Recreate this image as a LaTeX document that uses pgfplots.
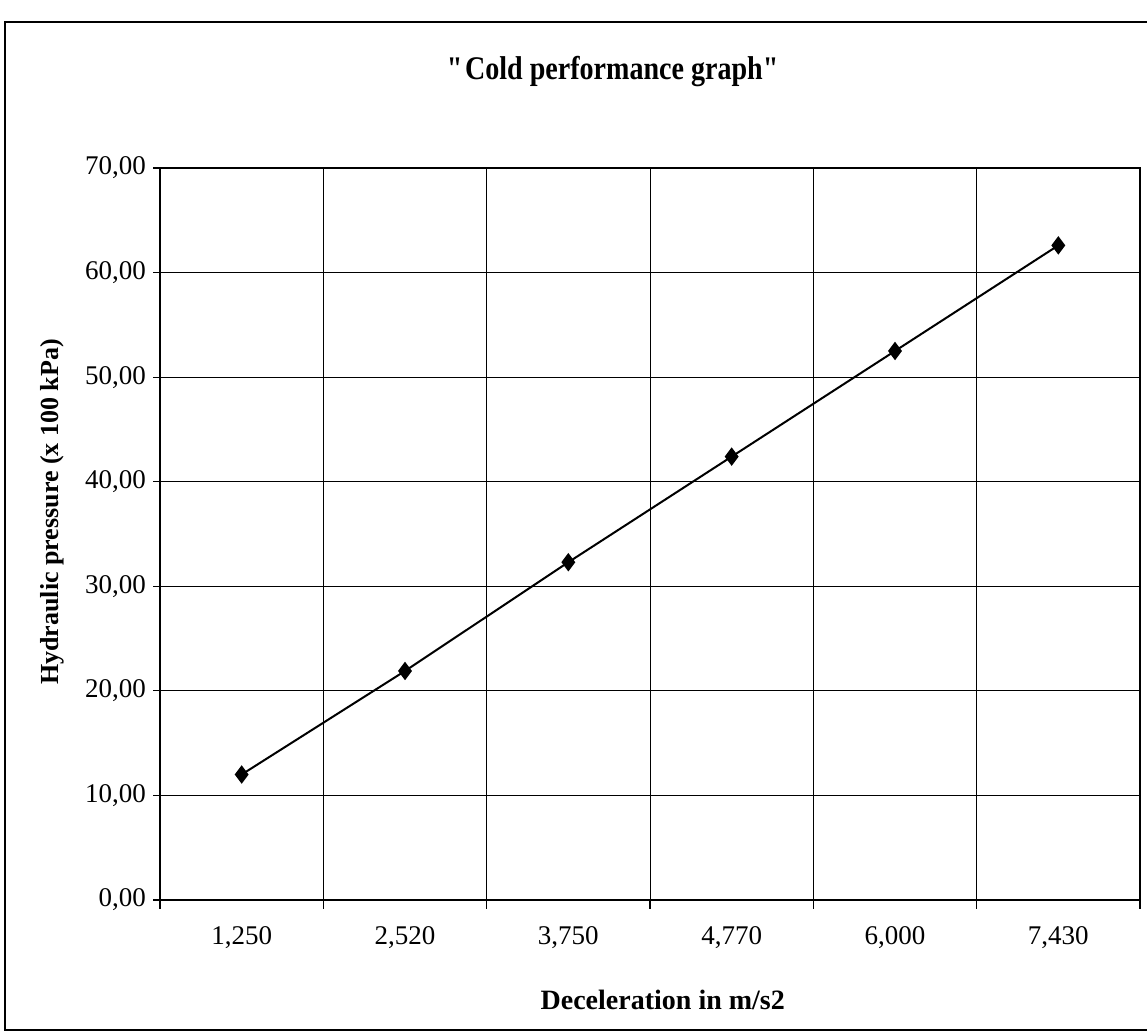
\documentclass[border=0pt]{standalone}
\usepackage{fontspec}
\setmainfont{Liberation Serif}
\newfontfamily\titlefont{Liberation Serif}[FakeStretch=0.85]
\usepackage{pgfplots}
\pgfplotsset{compat=1.18}
\begin{document}
\begin{tikzpicture}[x=1bp,y=1bp]
\useasboundingbox (0,0) rectangle (573.5,517);
\draw[line width=0.8bp] (2.5,2) rectangle (585,506);
\node[font=\titlefont\fontsize{16.5bp}{19bp}\selectfont\bfseries] at (307,481) {\textquotedbl{}Cold performance graph\textquotedbl};
\begin{axis}[
  at={(80bp,67bp)}, anchor=south west,
  scale only axis, width=490bp, height=366bp,
  xmin=-0.5, xmax=5.5, ymin=0, ymax=70,
  ytick={0,10,...,70},
  xtick={0,...,5},
  xticklabels={{1,250},{2,520},{3,750},{4,770},{6,000},{7,430}},
  minor xtick={-0.5,0.5,...,5.5},
  xminorgrids, ymajorgrids,
  grid style={black, line width=0.5bp},
  minor grid style={black, line width=0.5bp},
  axis line style={black, line width=0.6bp},
  tick align=outside, xtick pos=left, ytick pos=left,
  major x tick style={draw=none},
  major tick length=3.5bp, minor tick length=4.5bp,
  tick style={black, line width=0.6bp},
  /pgf/number format/assume math mode=true,
  yticklabel style={/pgf/number format/.cd, fixed, fixed zerofill, precision=2, use comma},
  ticklabel style={font=\fontsize{13.5bp}{16bp}\selectfont},
  xticklabel style={yshift=-6.5bp},
  xlabel={Deceleration in m/s2},
  ylabel={Hydraulic pressure (x 100 kPa)},
  xlabel style={font=\fontsize{14bp}{16bp}\selectfont\bfseries, at={(axis description cs:0.513,0)}, anchor=center, yshift=-50bp},
  ylabel style={font=\fontsize{13bp}{16bp}\selectfont\bfseries, at={(axis description cs:0,0.53)}, anchor=center, yshift=54bp},
]
\addplot[black, line width=1bp, mark=diamond*, mark size=3.8bp, mark options={fill=black}]
  coordinates {(0,12.0) (1,21.9) (2,32.3) (3,42.4) (4,52.5) (5,62.6)};
\end{axis}
\end{tikzpicture}
\end{document}
